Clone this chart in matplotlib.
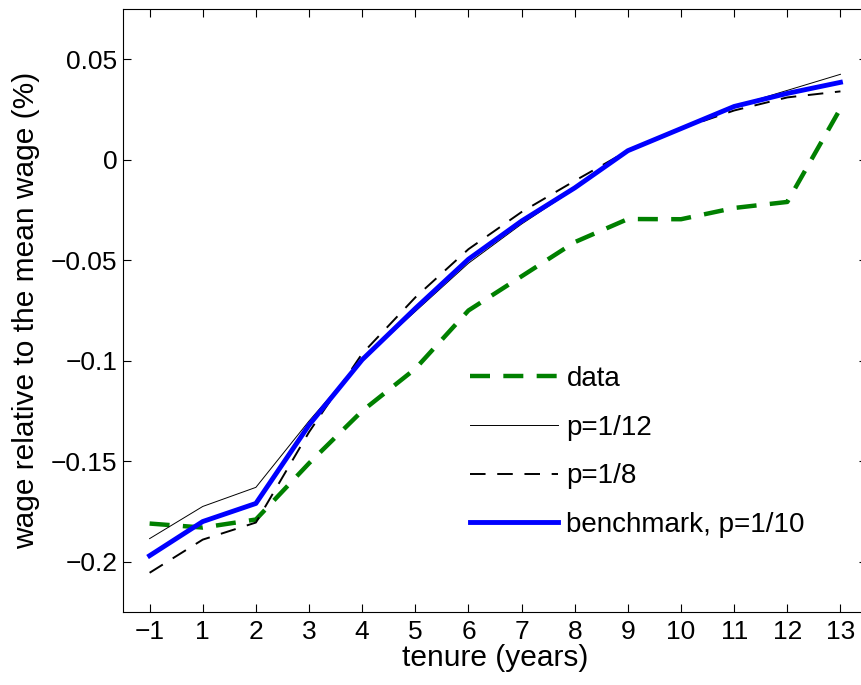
import matplotlib
matplotlib.use("Agg")
import matplotlib.pyplot as plt

plt.rcParams['font.family'] = ['Liberation Sans', 'DejaVu Sans']

tenure = ['-1', '1', '2', '3', '4', '5', '6', '7', '8', '9', '10', '11', '12', '13']
data = [-0.181, -0.183, -0.179, -0.151, -0.125, -0.104, -0.075, -0.058, -0.041,
        -0.0295, -0.0296, -0.024, -0.021, 0.0255]
p12 = [-0.1885, -0.1725, -0.163, -0.130, -0.0995, -0.0755, -0.0515, -0.032, -0.0145,
       0.0045, 0.0155, 0.0265, 0.0345, 0.0425]
p8 = [-0.2055, -0.189, -0.1805, -0.1355, -0.0965, -0.0685, -0.0445, -0.026, -0.0105,
      0.0045, 0.0155, 0.0245, 0.031, 0.034]
bench = [-0.197, -0.180, -0.171, -0.132, -0.0995, -0.074, -0.0495, -0.0305, -0.014,
         0.0045, 0.0155, 0.0265, 0.033, 0.0385]
yticks = [-0.2, -0.15, -0.1, -0.05, 0, 0.05]
ylabels = ['\u22120.2', '\u22120.15', '\u22120.1', '\u22120.05', '0', '0.05']

x = list(range(len(tenure)))

fig = plt.figure(figsize=(8.61, 6.85), dpi=100)
ax = fig.add_axes([0.1429, 0.1066, 0.8641, 0.8803])

ax.plot(x, data, color=(0, 0.5, 0), lw=3.2, dashes=(4.5, 3), label='data')
ax.plot(x, p12, color='black', lw=0.7, label='p=1/12')
ax.plot(x, p8, color='black', lw=1.4, dashes=(8, 6), label='p=1/8')
ax.plot(x, bench, color='blue', lw=3.5, label='benchmark, p=1/10')

ax.set_xlim(-0.5, 13.5)
ax.set_ylim(-0.225, 0.075)
ax.set_xticks(x)
ax.set_xticklabels(['\u22121'] + tenure[1:])
ax.set_yticks(yticks)
ax.set_yticklabels(ylabels)
ax.tick_params(direction='in', top=True, right=True, labelsize=19, length=6, pad=6)
ax.tick_params(axis='y', pad=4)
ax.set_xlabel('tenure (years)', fontsize=21.5, labelpad=0)
ax.set_ylabel('wage relative to the mean wage (%)', fontsize=21.5, labelpad=8)

ax.legend(loc='upper left', bbox_to_anchor=(0.546, 0.466), bbox_transform=fig.transFigure,
          frameon=False, fontsize=20, borderpad=0, borderaxespad=0,
          handlelength=3.17, handletextpad=0.3, labelspacing=0.82)

fig.savefig('out.png', dpi=100)
